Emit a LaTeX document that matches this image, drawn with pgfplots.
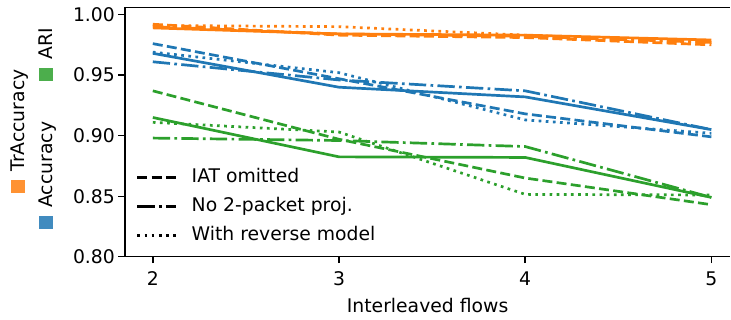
\documentclass[border=0pt]{standalone}
\usepackage{pgfplots}
\pgfplotsset{compat=1.18}
\usepackage{fontspec}
\setmainfont{DejaVu Sans}
\newcommand{\myfs}{\fontsize{18.8bp}{22.5bp}\selectfont}
\definecolor{cblue}{HTML}{1F77B4}
\definecolor{corange}{HTML}{FF7F0E}
\definecolor{cgreen}{HTML}{2CA02C}
\tikzset{
  mdashed/.style={dash pattern=on 10bp off 4.3bp},
  mdashdot/.style={dash pattern=on 17.3bp off 4.3bp on 2.7bp off 4.3bp},
  mdotted/.style={dash pattern=on 2.7bp off 4.45bp},
}
\begin{document}
\begin{tikzpicture}
\begin{axis}[
  scale only axis, width=606bp, height=249.7bp,
  xmin=1.85, xmax=5.1017, ymin=0.80, ymax=1.006,
  axis x line=box, axis y line=left,
  xtick={2,3,4,5}, ytick={0.80,0.85,0.90,0.95,1.00},
  xtick pos=left, ytick pos=left,
  tick align=outside, major tick length=6.5bp,
  tick style={line width=1.4bp, black},
  axis line style={line width=1.4bp, black, -},
  tick label style={font=\myfs},
  /pgf/number format/assume math mode=true,
  yticklabel style={/pgf/number format/.cd, fixed, fixed zerofill, precision=2},
  xticklabel style={/pgf/number format/.cd, fixed, precision=0, /tikz/.cd, yshift=-5bp},
  xlabel={Interleaved flows},
  label style={font=\myfs},
  xlabel style={yshift=-5bp},
  every axis plot/.append style={line width=2.7bp, line join=round},
  legend image code/.code={\draw[#1] (0bp,0bp) -- (39bp,0bp);},
  legend style={draw=none, fill=none, at={(0,0)}, anchor=south west,
    xshift=11bp, yshift=12bp, inner sep=0pt, row sep=11bp, column sep=14bp,
    font=\myfs, cells={anchor=west},
    nodes={inner sep=0pt, text height=14bp, text depth=4bp}},
  legend cell align=left,
]
\addlegendimage{black, mdashed}
\addlegendentry{IAT omitted}
\addlegendimage{black, mdashdot}
\addlegendentry{No 2-packet proj.}
\addlegendimage{black, mdotted}
\addlegendentry{With reverse model}

% ARI (green)
\addplot[cgreen, forget plot] coordinates {(2,0.915)(3,0.8825)(4,0.882)(5,0.849)};
\addplot[cgreen, mdashed, forget plot] coordinates {(2,0.937)(3,0.897)(4,0.865)(5,0.843)};
\addplot[cgreen, mdashdot, forget plot] coordinates {(2,0.898)(3,0.896)(4,0.891)(5,0.849)};
\addplot[cgreen, mdotted, forget plot] coordinates {(2,0.911)(3,0.903)(4,0.8515)(5,0.851)};
% Accuracy (blue)
\addplot[cblue, forget plot] coordinates {(2,0.968)(3,0.940)(4,0.932)(5,0.905)};
\addplot[cblue, mdashed, forget plot] coordinates {(2,0.976)(3,0.947)(4,0.918)(5,0.899)};
\addplot[cblue, mdashdot, forget plot] coordinates {(2,0.961)(3,0.946)(4,0.937)(5,0.905)};
\addplot[cblue, mdotted, forget plot] coordinates {(2,0.969)(3,0.952)(4,0.913)(5,0.902)};
% TrAccuracy (orange)
\addplot[corange, forget plot] coordinates {(2,0.989)(3,0.984)(4,0.983)(5,0.979)};
\addplot[corange, mdashed, forget plot] coordinates {(2,0.992)(3,0.983)(4,0.981)(5,0.975)};
\addplot[corange, mdashdot, forget plot] coordinates {(2,0.990)(3,0.984)(4,0.982)(5,0.977)};
\addplot[corange, mdotted, forget plot] coordinates {(2,0.991)(3,0.990)(4,0.983)(5,0.977)};
\end{axis}
% rotated category legend
\fill[corange!85!white] (-114bp,64bp) rectangle (-100bp,77bp);
\node[rotate=90, anchor=base west, font=\myfs, inner sep=0pt] at (-100bp,85bp) {TrAccuracy};
\fill[cblue!85!white] (-86bp,27.5bp) rectangle (-72bp,40.5bp);
\node[rotate=90, anchor=base west, font=\myfs, inner sep=0pt] at (-72bp,49bp) {Accuracy};
\fill[cgreen!85!white] (-86bp,175.5bp) rectangle (-72bp,188.5bp);
\node[rotate=90, anchor=base west, font=\myfs, inner sep=0pt] at (-72bp,197bp) {ARI};
\path (-125bp,-63bp) rectangle (606bp,257bp);
\end{tikzpicture}
\end{document}
